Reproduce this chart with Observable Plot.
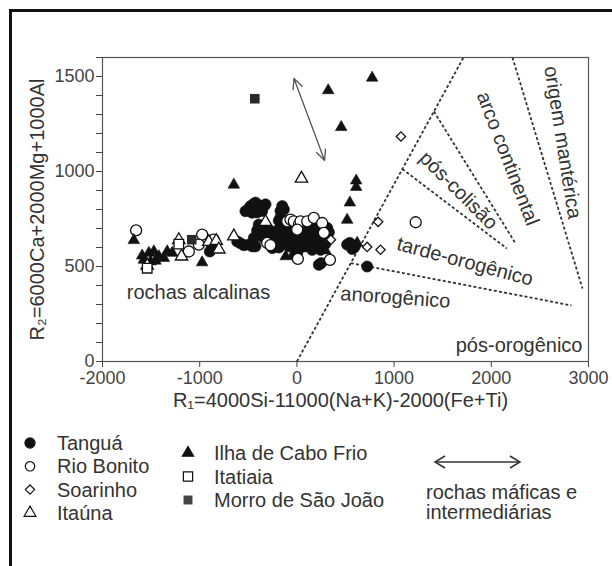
<!DOCTYPE html>
<html><head><meta charset="utf-8">
<script src="https://cdn.jsdelivr.net/npm/d3@7"></script>
<script src="https://cdn.jsdelivr.net/npm/@observablehq/plot@0.6"></script>
<style>
body{margin:0;background:#fff;font-family:"Liberation Sans",Arial,sans-serif;}
#page{position:relative;width:612px;height:566px;overflow:hidden;background:#fff;}
#border{position:absolute;left:9px;top:9px;width:800px;height:800px;border-left:3px solid #111;border-top:3px solid #111;}
#chart{position:absolute;left:0;top:0;}
#legend{position:absolute;left:0;top:0;}
</style></head><body>
<div id="page"><div id="border"></div><div id="chart"></div><svg id="legend" width="612" height="566"></svg></div>
<script>
// ---------- data (R1, R2) ----------
const tangua = [[-896,579],[-872,603],
 [-529,791],[-494,805],[-477,818],[-443,830],[-426,836],[-392,823],[-374,809],[-340,818],[-323,827],[-460,783],[-409,785],[-357,792],[-151,818],[-169,792],[-169,758],[-151,722],[-186,742],
 [-614,632],[-580,622],[-545,612],[-494,615],[-460,606],[-426,606],[-443,650],[-409,690],[-392,721],[-357,694],[-323,668],[-340,650],[-289,640],[-272,632],[-254,597],[-220,620],[-203,659],[-186,600],[-134,685],[-117,641],[-100,624],[-83,606],[-66,659],[-49,640],[-32,668],[-15,610],[20,641],[37,600],[54,680],[71,712],[88,624],[88,606],[106,685],[123,650],[140,685],[157,738],[157,606],[157,588],[174,641],[192,620],[209,694],[226,660],[243,624],[243,588],[260,700],[277,650],[294,620],[312,703],[329,680],[-134,800],[3,588],[3,571],[-20,560],[226,509],[250,518],[-66,700],[-100,700],[-200,690],[-240,660],[-300,700],
 [517,615],[544,624],[569,592],[594,604],[723,500]];
const rioBonito = [[-1654,690],[-975,668],[-1112,579],[-1009,615],[-855,641],[-306,624],[-272,612],[-100,738],[-66,747],[-32,738],[20,721],[37,738],[106,738],[174,756],[260,729],[277,677],[3,694],[10,540],[340,535],[1222,733]];
const soarinho = [[1070,1184],[836,735],[723,603],[860,588],[350,641]];
const itauna = [[47,963],[-1540,505],[-1215,640],[-1187,553],[-906,630],[-830,635],[-803,590],[-649,659],[-323,735]];
const caboFrio = [[322,1427],[774,1493],[456,1233],[-649,930],[610,952],[610,918],[545,836],[517,745],[-1678,638],[-1592,557],[-1523,571],[-1472,579],[-1420,553],[-1334,579],[-1283,571],[-1369,544],[-1455,530],[-1506,526],[-1575,535],[-975,521],[-115,553],[294,584],[620,624]];
const itatiaia = [[-1540,491],[-1215,618]];
const morroSaoJoao = [[-433,1383],[-1082,641]];

// field boundaries (R1, R2 endpoints)
const boundaries = [
  [[0,0],[1714,1600]],
  [[555,518],[2825,295]],
  [[1085,1013],[2160,595]],
  [[1410,1316],[2244,626]],
  [[2218,1600],[2938,384]]
];
// mafic-intermediate trend arrow
const trendArrow = [[-30,1490],[285,1058]];

// field labels
const fieldNames  = ["rochas alcalinas","anorogênico","tarde-orogênico","pós-colisão","arco continental","origem mantérica"];
const fieldR1     = [-1012, 1014, 1729, 1663, 2169, 2734];
const fieldR2     = [363, 337, 526, 900, 1068, 1153];
const fieldAngle  = [0, 4, 15, 45, 69, 81];
const postOroName = "pós-orogênico", postOroR1 = 2938, postOroR2 = 84;

const xTicks = [-2000,-1000,0,1000,2000,3000];
const yTicks = d3.range(0,1601,100);
const yLabelTicks = [0,500,1000,1500];
const xTitle = "R₁=4000Si-11000(Na+K)-2000(Fe+Ti)";
const yTitle = "R₂=6000Ca+2000Mg+1000Al";

const legendCol1 = ["Tanguá","Rio Bonito","Soarinho","Itaúna"];
const legendCol2 = ["Ilha de Cabo Frio","Itatiaia","Morro de São João"];
const legendArrowText = ["rochas máficas e","intermediárias"];

// ---------- chart ----------
const pts = a => a.map(([x,y]) => ({x,y}));
const fields = fieldNames.map((t,i)=>({t, x:fieldR1[i], y:fieldR2[i], a:fieldAngle[i]}));
const segs = boundaries.map(([a,b])=>({x1:a[0],y1:a[1],x2:b[0],y2:b[1]}));
const mid = [(trendArrow[0][0]+trendArrow[1][0])/2,(trendArrow[0][1]+trendArrow[1][1])/2];
const arrows = trendArrow.map(e=>({x1:mid[0],y1:mid[1],x2:e[0],y2:e[1]}));

const ink = "#111", txt = "#333";
const chart = Plot.plot({
  width: 612, height: 420,
  marginLeft: 102, marginRight: 24, marginTop: 57, marginBottom: 59,
  style: {fontSize: "18px", fontFamily: "Liberation Sans, Arial, sans-serif", color: "#444", background: "transparent", overflow: "visible"},
  x: {domain: [-2000,3000], ticks: xTicks, tickSize: 6, tickPadding: 4, label: null, tickFormat: d=>String(d)},
  y: {domain: [0,1600], ticks: yTicks, tickSize: 6, tickPadding: 2, label: null, tickFormat: d => yLabelTicks.includes(d) ? String(d) : ""},
  marks: [
    Plot.frame({stroke: "#555", strokeWidth: 1.2}),
    Plot.link(segs, {x1:"x1",y1:"y1",x2:"x2",y2:"y2", stroke:"#333", strokeWidth:1.8, strokeDasharray:"3,2.2"}),
    Plot.arrow(arrows, {x1:"x1",y1:"y1",x2:"x2",y2:"y2", stroke:"#555", strokeWidth:1.3, headLength:13, headAngle:50}),
    Plot.dot(pts(tangua), {x:"x", y:"y", symbol:"circle", r:5.6, fill:ink, stroke:ink, strokeWidth:0.6}),
    Plot.dot(pts(rioBonito), {x:"x", y:"y", symbol:"circle", r:5.5, fill:"white", stroke:ink, strokeWidth:1.3}),
    Plot.dot(pts(caboFrio), {x:"x", y:"y", symbol:"triangle", r:4.3, fill:ink, stroke:ink, strokeWidth:0.6}),
    Plot.dot(pts(itauna), {x:"x", y:"y", symbol:"triangle", r:4.6, fill:"white", stroke:ink, strokeWidth:1.3}),
    Plot.dot(pts(soarinho), {x:"x", y:"y", symbol:"diamond2", r:4.2, fill:"white", stroke:ink, strokeWidth:1.3}),
    Plot.dot(pts(itatiaia), {x:"x", y:"y", symbol:"square", r:5.4, fill:"white", stroke:ink, strokeWidth:1.3}),
    Plot.dot(pts(morroSaoJoao), {x:"x", y:"y", symbol:"square", r:5.4, fill:"#2a2a2a"}),
    Plot.text(fields, {x:"x", y:"y", text:"t", rotate:"a", fontSize:20, fill:txt}),
    Plot.text([postOroName], {x:postOroR1, y:postOroR2, text:d=>d, textAnchor:"end", fontSize:20, fill:txt}),
    Plot.text([xTitle], {frameAnchor:"bottom", text:d=>d, textAnchor:"middle", dy:45, dx:-5, fontSize:20, fill:txt}),
    Plot.text([yTitle], {frameAnchor:"left", text:d=>d, textAnchor:"middle", rotate:-90, dx:-65, fontSize:20, fill:txt})
  ]
});
document.getElementById("chart").appendChild(chart);

// ---------- legend ----------
const lg = d3.select("#legend").style("font-family","Liberation Sans, Arial, sans-serif");
const sym = (type, size) => d3.symbol().type(type).size(size)();
const col1Sym = [
  {p:sym(d3.symbolCircle,80), fill:ink, stroke:ink},
  {p:sym(d3.symbolCircle,70), fill:"white", stroke:ink},
  {p:sym(d3.symbolDiamond2,55), fill:"white", stroke:ink},
  {p:sym(d3.symbolTriangle,60), fill:"white", stroke:ink}
];
const col2Sym = [
  {p:sym(d3.symbolTriangle,55), fill:ink, stroke:ink},
  {p:sym(d3.symbolSquare,85), fill:"white", stroke:ink},
  {p:sym(d3.symbolSquare,80), fill:"#444", stroke:"none"}
];
legendCol1.forEach((t,i)=>{
  const y = 443 + i*23.3;
  const s = col1Sym[i];
  lg.append("path").attr("d",s.p).attr("transform",`translate(30,${y})`).attr("fill",s.fill).attr("stroke",s.stroke).attr("stroke-width",1.2);
  lg.append("text").attr("x",57).attr("y",y).attr("dy","0.35em").attr("font-size",20).attr("fill",txt).text(t);
});
legendCol2.forEach((t,i)=>{
  const y = 453 + i*23.5;
  const s = col2Sym[i];
  lg.append("path").attr("d",s.p).attr("transform",`translate(188,${y})`).attr("fill",s.fill).attr("stroke",s.stroke).attr("stroke-width",1.2);
  lg.append("text").attr("x",214).attr("y",y).attr("dy","0.35em").attr("font-size",20).attr("fill",txt).text(t);
});
const ay = 462, ax1 = 435, ax2 = 520;
lg.append("line").attr("x1",ax1).attr("x2",ax2).attr("y1",ay).attr("y2",ay).attr("stroke","#333").attr("stroke-width",1.5);
lg.append("path").attr("d",`M${ax1+10},${ay-6}L${ax1},${ay}L${ax1+10},${ay+6}M${ax2-10},${ay-6}L${ax2},${ay}L${ax2-10},${ay+6}`).attr("fill","none").attr("stroke","#333").attr("stroke-width",1.5);
legendArrowText.forEach((t,i)=>{
  lg.append("text").attr("x",426).attr("y",492 + i*20).attr("dy","0.35em").attr("font-size",20).attr("fill",txt).text(t);
});
</script>
</body></html>
